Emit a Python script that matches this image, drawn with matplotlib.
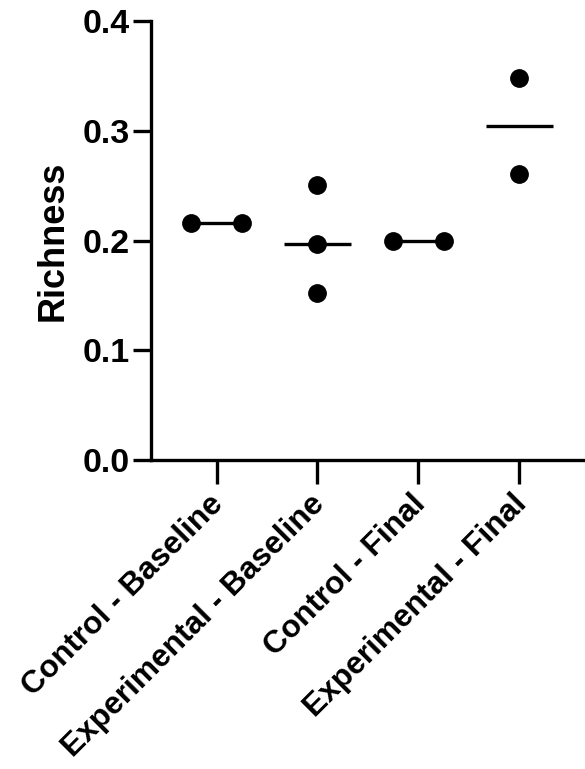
import numpy as np
import matplotlib
matplotlib.use('Agg')
import matplotlib.pyplot as plt
import matplotlib.transforms as mtransforms

plt.rcParams['font.family'] = ['Liberation Sans', 'DejaVu Sans']
plt.rcParams['font.weight'] = 'bold'

# data
groups = ['Control - Baseline', 'Experimental - Baseline', 'Control - Final', 'Experimental - Final']
control_baseline = [0.216, 0.216]
experimental_baseline = [0.251, 0.197, 0.152]
control_final = [0.200, 0.200]
experimental_final = [0.348, 0.261]
values = [control_baseline, experimental_baseline, control_final, experimental_final]

# horizontal spread of tied points (layout only)
spread = [[-0.25, 0.25], [0, 0, 0], [-0.25, 0.25], [0, 0]]

fig = plt.figure(figsize=(5.85, 7.69), dpi=100)
ax = fig.add_axes([0.258, 0.4018, 0.742, 0.5709])

for i, v in enumerate(values):
    med = np.median(v)
    ax.plot([i - 0.33, i + 0.33], [med, med], color='black', lw=2.4, solid_capstyle='butt', zorder=2)
    ax.plot(i + np.array(spread[i]), v, 'o', color='black', ms=12.5, zorder=3)

ax.set_xlim(-0.65, 3.65)
ax.set_ylim(0, 0.4)
ax.set_yticks([0.0, 0.1, 0.2, 0.3, 0.4])
ax.set_yticklabels(['0.0', '0.1', '0.2', '0.3', '0.4'])
ax.set_xticks(range(len(groups)))
ax.set_xticklabels(groups, rotation=45, ha='right', rotation_mode='anchor', fontsize=22.8, fontweight='bold')
ax.tick_params(axis='y', labelsize=24.5, width=2.4, length=13, pad=2)
ax.tick_params(axis='x', width=2.4, length=17, pad=4)
for lab in ax.get_yticklabels():
    lab.set_fontweight('bold')
# nudge the slanted labels a little to the left
shift = mtransforms.ScaledTranslation(-8 / 100, 0, fig.dpi_scale_trans)
for lab in ax.get_xticklabels():
    lab.set_transform(lab.get_transform() + shift)
ax.set_ylabel('Richness', fontsize=26, fontweight='bold', labelpad=9)

ax.spines['top'].set_visible(False)
ax.spines['right'].set_visible(False)
ax.spines['left'].set_linewidth(2.4)
ax.spines['bottom'].set_linewidth(2.4)

fig.savefig('out.png', dpi=100)
